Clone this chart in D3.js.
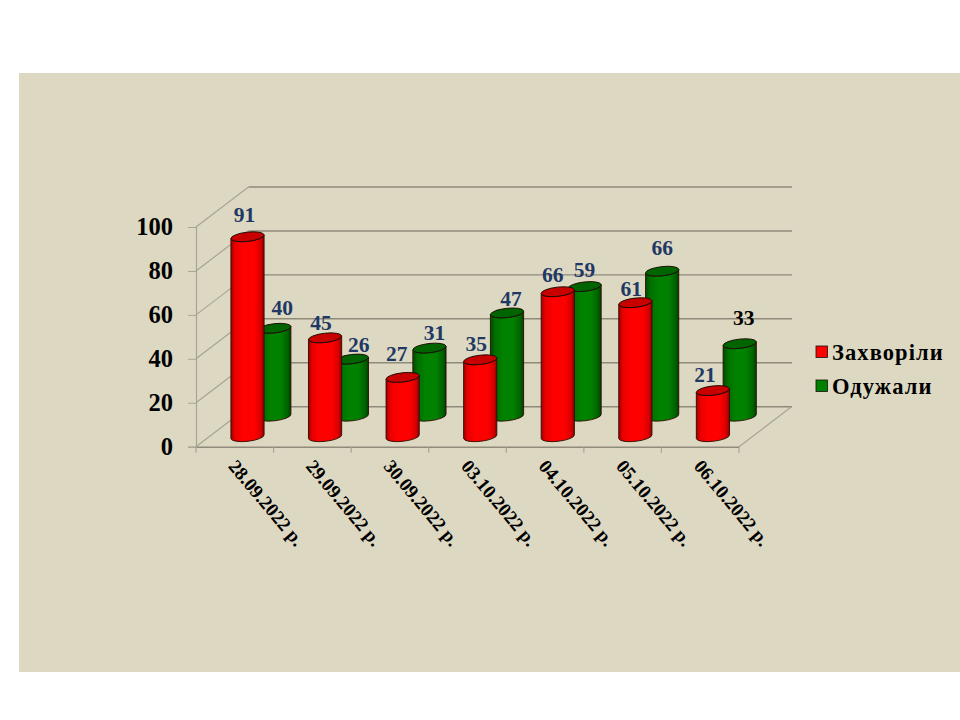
<!DOCTYPE html>
<html><head><meta charset="utf-8">
<script src="https://cdn.jsdelivr.net/npm/d3@7"></script>
<style>html,body{margin:0;background:#fff}svg{display:block}text{font-family:"Liberation Serif",serif;font-weight:bold}</style>
</head><body><div id="c"></div>
<script>
const categories=["28.09.2022 р.","29.09.2022 р.","30.09.2022 р.","03.10.2022 р.","04.10.2022 р.","05.10.2022 р.","06.10.2022 р."];
const ill=[91,45,27,35,66,61,21];
const recovered=[40,26,31,47,59,66,33];
const seriesNames=["Захворіли","Одужали"];
const yTicks=[0,20,40,60,80,100];
// hand-placed label shifts from the automatic position (dx, dy)
const illNudge=[[-3,0],[-4,7],[-6,-1],[-4,6],[-5,5],[-4,8],[-8,6]];
const recNudge=[[8,2],[7,8],[5,7],[4,8],[0,5],[0,-1],[4,-4]];

const W=960,H=720;
const svg=d3.select("#c").append("svg").attr("width",W).attr("height",H);
svg.append("rect").attr("width",W).attr("height",H).attr("fill","#fff");
svg.append("rect").attr("x",19).attr("y",73).attr("width",941).attr("height",599).attr("fill","#ddd8c2");

const defs=svg.append("defs");
function grad(id,stops){const g=defs.append("linearGradient").attr("id",id);
 stops.forEach(([o,c])=>g.append("stop").attr("offset",o).attr("stop-color",c));}
grad("gR",[[0,"#a00000"],[.12,"#e80000"],[.35,"#ff0000"],[.7,"#ff0000"],[.9,"#d80000"],[1,"#8c0000"]]);
grad("gG",[[0,"#004c00"],[.15,"#007000"],[.4,"#008200"],[.7,"#008000"],[.9,"#006200"],[1,"#004000"]]);

const depthX=52.5,depthY=-40;
const x0=196,x1=739,y0=446.7,y100=227;
const x=d3.scaleBand().domain(categories).range([x0,x1]).paddingInner(0).paddingOuter(0);
const y=d3.scaleLinear().domain([0,100]).range([y0,y100]);
const gridColor="#8f8a7a",sideColor="#a8a495";

// back wall + side wall gridlines
const grid=svg.append("g").attr("fill","none");
yTicks.forEach(t=>{
 grid.append("line").attr("x1",x0).attr("y1",y(t)).attr("x2",x0+depthX).attr("y2",y(t)+depthY).attr("stroke",sideColor).attr("stroke-width",1.2);
 grid.append("line").attr("x1",x0+depthX).attr("y1",y(t)+depthY).attr("x2",x1+depthX+.5).attr("y2",y(t)+depthY).attr("stroke",gridColor).attr("stroke-width",1.4);
});
grid.append("line").attr("x1",x1).attr("y1",y0).attr("x2",x1+depthX).attr("y2",y0+depthY).attr("stroke",sideColor).attr("stroke-width",1.2);

// axes
const yAxis=svg.append("g").attr("transform",`translate(${x0},0)`).call(d3.axisLeft(y).tickValues(yTicks).tickSize(8).tickPadding(15));
yAxis.select(".domain").attr("stroke","#a8a495").attr("stroke-width",1.2);
yAxis.selectAll(".tick line").attr("stroke","#a8a495");
yAxis.selectAll("text").attr("font-size",24.5).attr("fill","#000").attr("font-family","Liberation Serif").attr("dy","0.3em");

const xAxis=svg.append("g").attr("transform",`translate(0,${y0})`).call(d3.axisBottom(x).tickSize(0).tickFormat(""));
xAxis.select(".domain").attr("stroke","#8f8a7a").attr("stroke-width",1.4);
xAxis.selectAll(".tick").remove();
d3.range(categories.length+1).forEach(i=>{
 const px=x0+i*x.step();
 xAxis.append("line").attr("x1",px).attr("x2",px).attr("y1",0).attr("y2",6).attr("stroke","#a8a495").attr("stroke-width",1.2);
});
categories.forEach(c=>{
 const px=x(c)+31.5,py=y0+20;
 svg.append("text").attr("transform",`translate(${px},${py}) rotate(50)`).attr("font-size",19).attr("fill","#000").text(c);
});

// cylinders
const bw=33.4,rx=bw/2,ry=4.6,tilt=-6.5;
const rad=tilt*Math.PI/180;
const barH=v=>y(0)-y(v);
function cylinder(g,cx,base,v,fill,top){
 const ty=base-barH(v);
 const ex=rx*Math.cos(rad),ey=rx*Math.sin(rad);
 const body=`M${cx-ex},${ty-ey}L${cx-ex},${base-ey}A${rx},${ry} ${tilt} 0 0 ${cx+ex},${base+ey}L${cx+ex},${ty+ey}A${rx},${ry} ${tilt} 0 1 ${cx-ex},${ty-ey}Z`;
 g.append("path").attr("d",body).attr("fill",`url(#${fill})`).attr("stroke","#2a0a00").attr("stroke-width",.9);
 g.append("ellipse").attr("cx",0).attr("cy",0).attr("rx",rx).attr("ry",ry)
  .attr("transform",`translate(${cx},${ty}) rotate(${tilt})`).attr("fill",top).attr("stroke","#1a0a00").attr("stroke-width",.9);
 return ty;
}
const redX=c=>x(c)+51.5, redBase=y0-10, greenDx=26.8, greenBase=y0-30.5;
const labels=[];
const gBars=svg.append("g");
categories.forEach((c,i)=>{
 const ty=cylinder(gBars,redX(c)+greenDx,greenBase,recovered[i],"gG","#006400");
 labels.push({x:redX(c)+greenDx+recNudge[i][0],y:ty-22+recNudge[i][1],t:recovered[i],fill:i===6?"#000":"#1f3864"});
});
categories.forEach((c,i)=>{
 const ty=cylinder(gBars,redX(c),redBase,ill[i],"gR","#c80000");
 labels.push({x:redX(c)+illNudge[i][0],y:ty-22+illNudge[i][1],t:ill[i],fill:"#1f3864"});
});
svg.append("g").selectAll("text").data(labels).join("text")
 .attr("x",d=>d.x).attr("y",d=>d.y).attr("text-anchor","middle").attr("dy","0.33em")
 .attr("font-size",21.5).attr("fill",d=>d.fill).text(d=>d.t);

// legend
const legendColor=d3.scaleOrdinal().domain(seriesNames).range(["#ff0000","#008000"]);
const leg=svg.append("g").selectAll("g").data(seriesNames).join("g")
 .attr("transform",(d,i)=>`translate(816,${346+i*34})`);
leg.append("rect").attr("width",11.5).attr("height",11.5).attr("fill",d=>legendColor(d)).attr("stroke","#111").attr("stroke-width",.8);
leg.append("text").attr("x",16).attr("y",14).attr("font-size",22.5).attr("letter-spacing","1.1").attr("fill","#000").text(d=>d);
</script></body></html>
